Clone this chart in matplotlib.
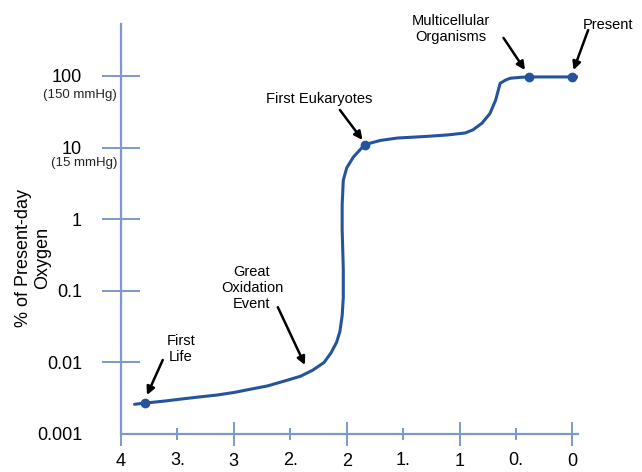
import matplotlib.pyplot as plt
import numpy as np

plt.rcParams['font.family'] = ['Liberation Sans', 'DejaVu Sans']

# oxygen curve (billion years ago, % of present-day O2)
age = [3.88, 3.79, 3.6, 3.45, 3.3, 3.15, 3.0, 2.86, 2.7, 2.55, 2.41, 2.3,
       2.2, 2.14, 2.09, 2.06, 2.04, 2.03, 2.03, 2.04, 2.04, 2.03, 2.0,
       1.94, 1.84, 1.7, 1.55, 1.3, 1.11, 0.95, 0.88, 0.8, 0.73, 0.68,
       0.64, 0.59, 0.55, 0.45, 0.38, 0.2, 0.0, -0.05]
oxygen = [0.0026, 0.0027, 0.0029, 0.0031, 0.0033, 0.0035, 0.0038, 0.0042,
          0.0047, 0.0055, 0.0064, 0.0078, 0.0100, 0.0135, 0.019, 0.027,
          0.045, 0.081, 0.2, 0.71, 1.6, 3.5, 5.2, 7.4, 11.0, 12.6, 13.6,
          14.3, 15.0, 16.0, 17.7, 22.0, 30.0, 46.0, 79.0, 88.0, 93.0,
          96.0, 97.0, 97.0, 97.0, 97.0]

# marked events
event_age = [3.79, 1.84, 0.38, 0.0]
event_o2 = [0.0027, 11.0, 97.0, 97.0]
event_text = ['First\nLife', 'First Eukaryotes', 'Multicellular\nOrganisms',
              'Present', 'Great\nOxidation\nEvent']

major_x = [4, 3, 2, 1, 0]
major_xlab = ['4', '3', '2', '1', '0']
minor_x = [3.5, 2.5, 1.5, 0.5]
minor_xlab = ['3.', '2.', '1.', '0.']
y_ticks = [0.001, 0.01, 0.1, 1, 10, 100]
y_labels = ['0.001', '0.01', '0.1', '1', '10', '100']

axis_col = '#7c98cc'
line_col = '#24549c'

fig = plt.figure(figsize=(6.42, 4.72), dpi=100)
ax = fig.add_axes([121/642, 38/472, 457/642, 410/472])

ax.plot(age, oxygen, color=line_col, lw=2.2, solid_capstyle='round')
ax.plot(event_age, event_o2, 'o', color=line_col, ms=6)

ax.set_yscale('log')
ax.set_xlim(4, -0.05)
ax.set_ylim(0.001, 532)

for s in ['top', 'right']:
    ax.spines[s].set_visible(False)
for s in ['left', 'bottom']:
    ax.spines[s].set_color(axis_col)
    ax.spines[s].set_linewidth(1.6)

ax.set_xticks(major_x)
ax.set_xticklabels(major_xlab)
ax.set_xticks(minor_x, minor=True)
ax.set_xticklabels(minor_xlab, minor=True)
ax.tick_params(axis='x', which='major', direction='inout', length=17,
               width=1.4, color=axis_col, labelsize=13, pad=5.5)
ax.tick_params(axis='x', which='minor', direction='inout', length=8,
               width=1.4, color=axis_col, labelsize=13, pad=9)

ax.set_yticks(y_ticks)
ax.set_yticklabels(y_labels)
ax.yaxis.set_minor_locator(plt.NullLocator())
ax.tick_params(axis='y', direction='inout', length=28, width=1.4,
               color=axis_col, labelsize=13, pad=14)
ax.yaxis.get_major_ticks()[0].tick1line.set_visible(False)

ax.text(-0.009, 66, '(150 mmHg)', transform=ax.get_yaxis_transform(),
        ha='right', va='top', fontsize=9.5, color='#222222')
ax.text(-0.009, 7.4, '(15 mmHg)', transform=ax.get_yaxis_transform(),
        ha='right', va='top', fontsize=9.5, color='#222222')

fig.text(33/642, 1 - 258/472, '% of Present-day\nOxygen', rotation=90,
         ha='center', va='center', multialignment='center', fontsize=13)

arrow = dict(arrowstyle='-|>', color='black', lw=1.8, mutation_scale=12,
             shrinkA=0, shrinkB=0)
# label position, arrow tail and arrow tip for each label
text_pos = [(3.47, 0.0154), (2.24, 47), (1.08, 453), (-0.32, 515), (2.84, 0.11)]
tail_pos = [(3.63, 0.0108), (2.06, 33.5), (0.61, 340), (-0.14, 438), (2.61, 0.059)]
tip_pos = [(3.77, 0.0035), (1.86, 12.8), (0.42, 121), (-0.01, 121), (2.37, 0.0092)]
for t, tp, tl, tip in zip(event_text, text_pos, tail_pos, tip_pos):
    ax.text(tp[0], tp[1], t, ha='center', va='center', fontsize=10.5,
            linespacing=1.2, clip_on=False)
    ax.annotate('', xy=tip, xytext=tl, arrowprops=arrow, annotation_clip=False)

fig.savefig('out.png', dpi=100)
